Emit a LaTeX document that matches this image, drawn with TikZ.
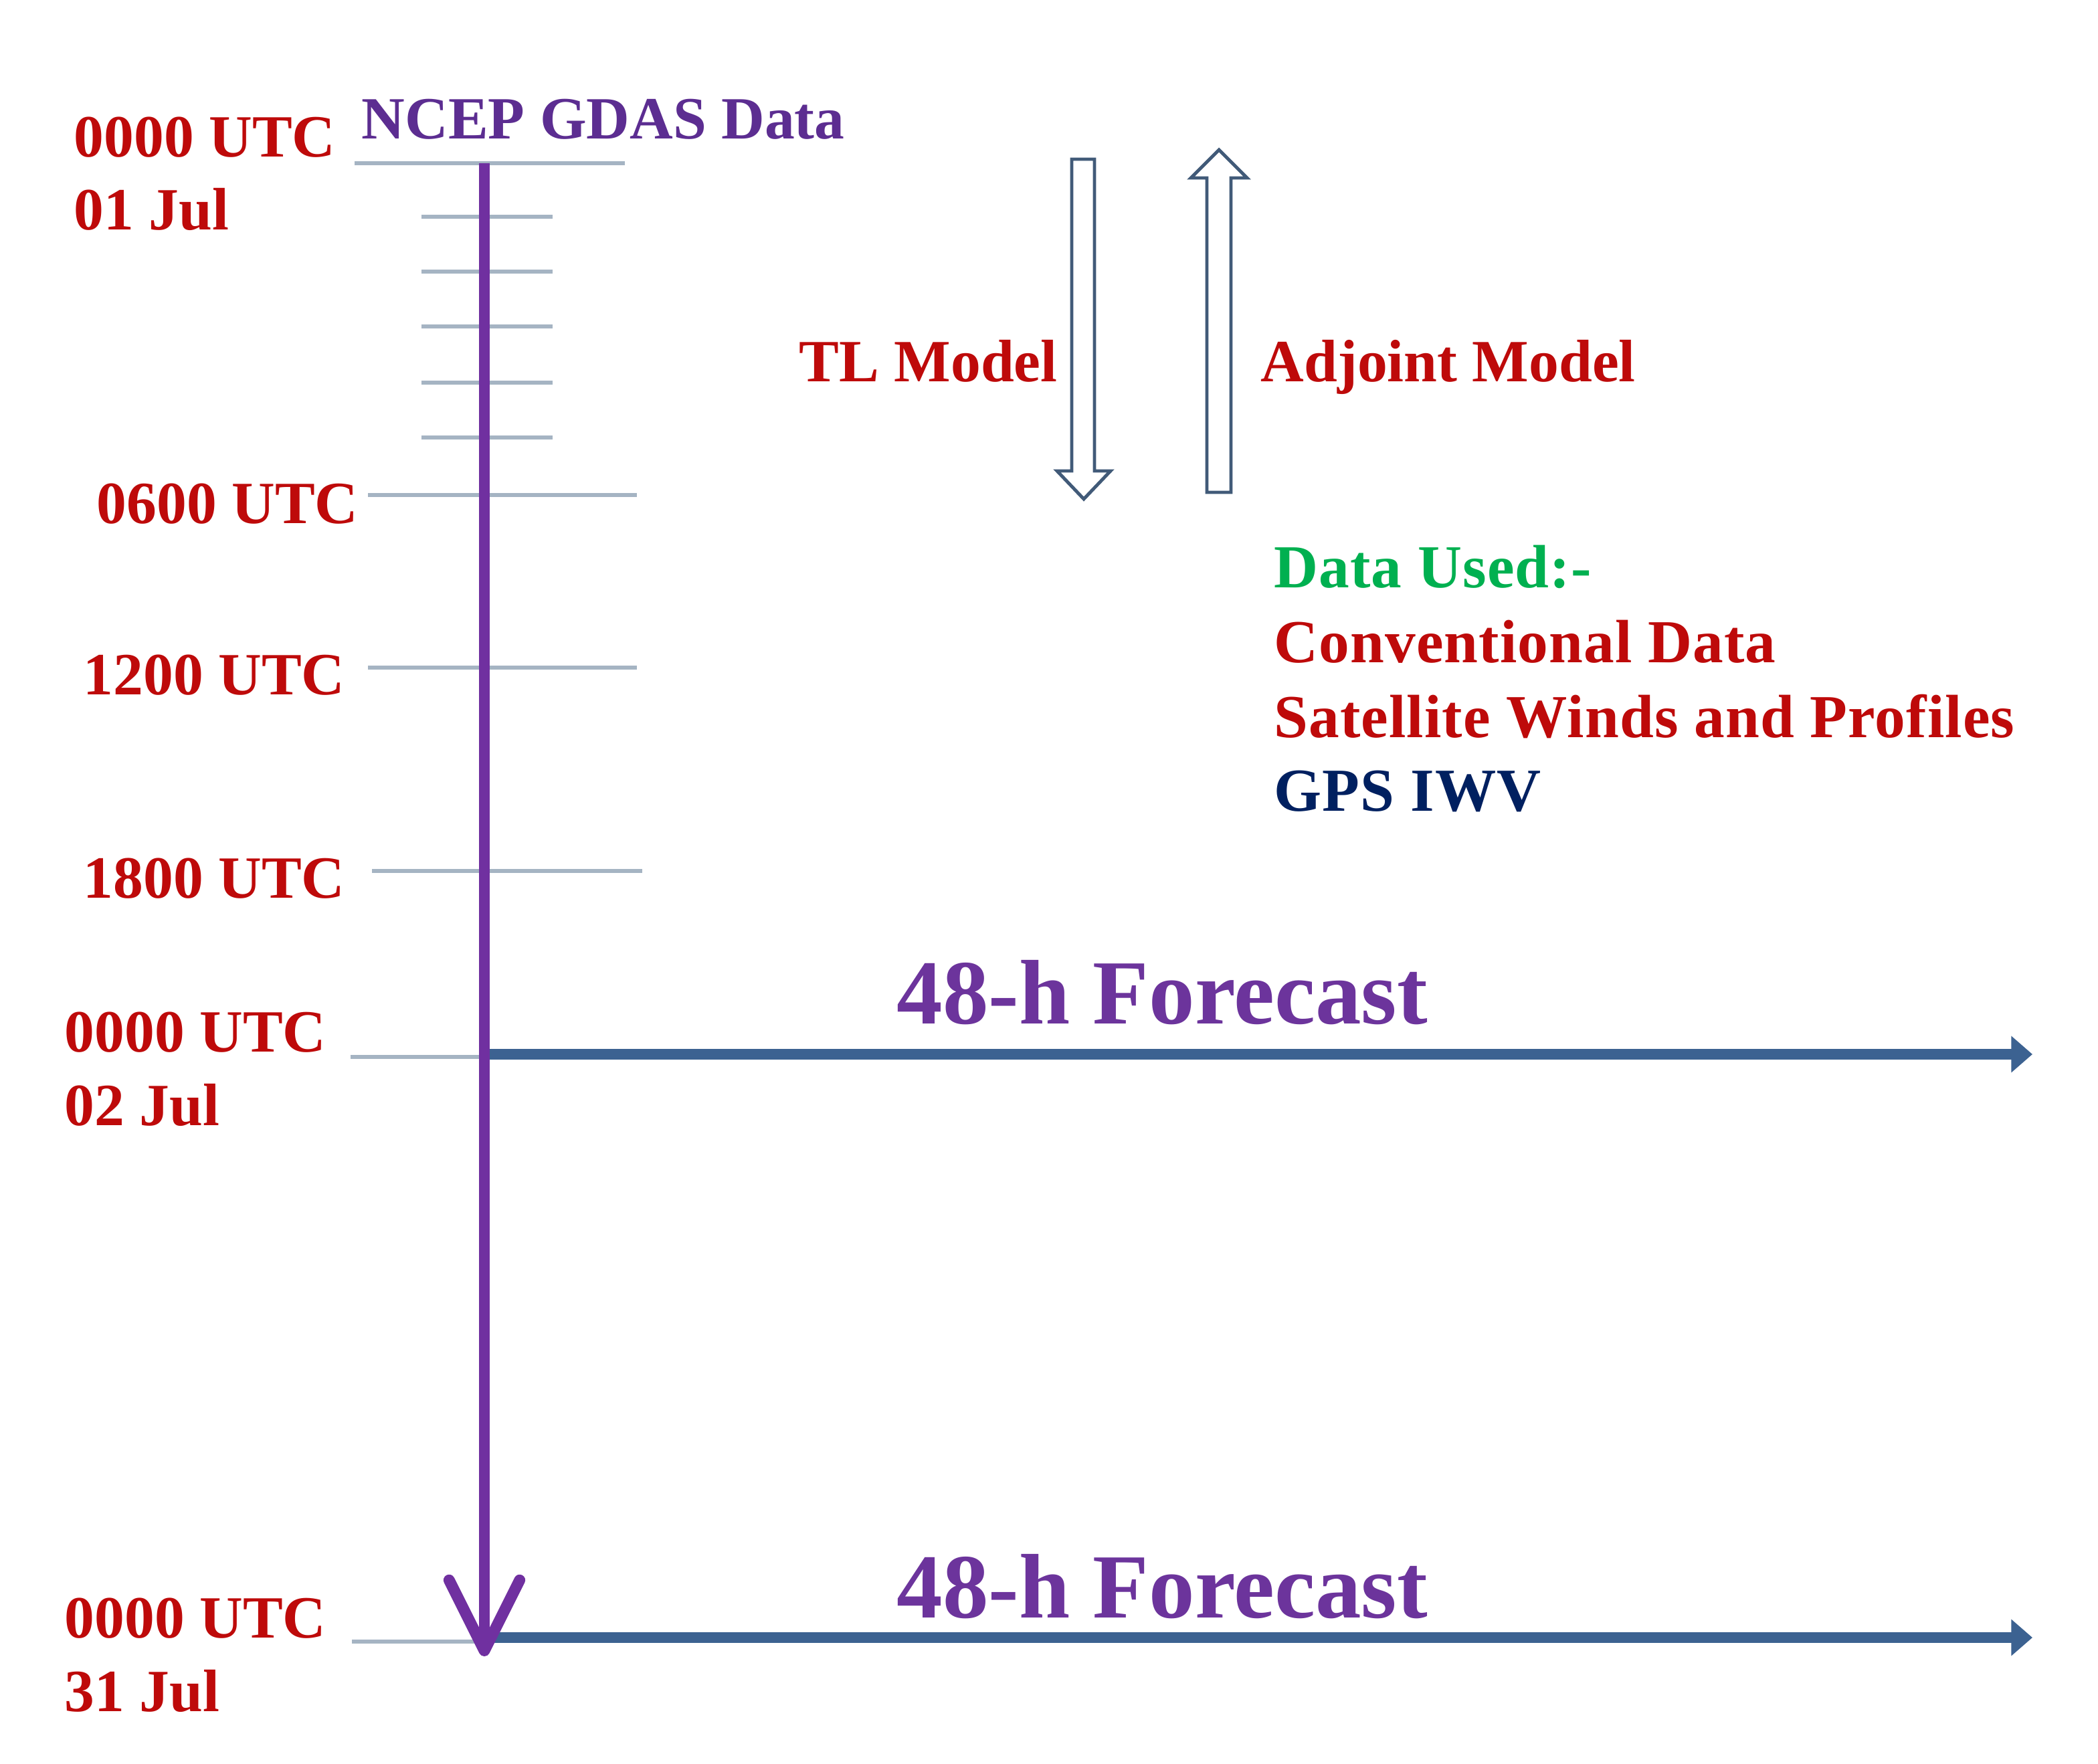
\documentclass[tikz,border=0pt]{standalone}
\usepackage{fontspec}
\setmainfont{Liberation Serif}
\usetikzlibrary{arrows.meta}
\definecolor{lblred}{RGB}{190,10,10}
\definecolor{ncep}{RGB}{92,45,145}
\definecolor{fpurple}{RGB}{108,52,156}
\definecolor{vpurple}{RGB}{112,48,160}
\definecolor{fblue}{RGB}{60,98,145}
\definecolor{tickgray}{RGB}{165,180,195}
\definecolor{hollowc}{RGB}{65,90,120}
\definecolor{dgreen}{RGB}{0,176,80}
\definecolor{navyc}{RGB}{0,32,96}
\begin{document}
\begin{tikzpicture}[x=0.02cm,y=-0.02cm,
  lbl/.style={font=\fontsize{25.5}{28}\selectfont\bfseries, text=lblred, inner sep=0pt, anchor=base west},
  ncepst/.style={lbl, text=ncep},
  datast/.style={font=\fontsize{26}{28}\selectfont\bfseries\addfontfeature{LetterSpace=1.2}, inner sep=0pt, anchor=base west},
  fst/.style={font=\fontsize{39}{42}\selectfont\bfseries, text=fpurple, inner sep=0pt, anchor=base west},
  tickln/.style={draw=tickgray, line width=1.6pt},
  fcarrow/.style={draw=fblue, line width=4.8pt, -{Triangle[length=9pt,width=15pt]}},
  vline/.style={draw=vpurple, line width=4.8pt, -{Straight Barb[length=30pt,width=30pt,round]}},
  hollowarr/.style={draw=hollowc, fill=white, line width=1.4pt, line join=miter}
]
\useasboundingbox (0,0) rectangle (1568,1318);
\fill[white] (0,0) rectangle (1568,1318);

% tick lines
\draw[tickln] (265,122) -- (467,122);
\foreach \yy in {162,203,244,286,327} {\draw[tickln] (315,\yy) -- (413,\yy);}
\draw[tickln] (275,370) -- (476,370);
\draw[tickln] (275,499) -- (476,499);
\draw[tickln] (278,651) -- (480,651);
\draw[tickln] (262,790) -- (362,790);
\draw[tickln] (263,1227) -- (362,1227);

% forecast arrows
\coordinate (f1s) at (362,788);
\coordinate (f1e) at (1519,788);
\coordinate (f2s) at (362,1224);
\coordinate (f2e) at (1519,1224);
\draw[fcarrow] (f1s) -- (f1e);
\draw[fcarrow] (f2s) -- (f2e);

% main time axis
\coordinate (top) at (362,122);
\coordinate (bot) at (362,1238);
\draw[vline] (top) -- (bot);

% hollow arrows
\draw[hollowarr] (801,119) -- (818,119) -- (818,352) -- (830,352) -- (810,373) -- (790,352) -- (801,352) -- cycle;
\draw[hollowarr] (902,368) -- (920,368) -- (920,133) -- (932,133) -- (911,112) -- (890,133) -- (902,133) -- cycle;

% labels
\node[lbl] (t0) at (55,117) {0000 UTC};
\node[lbl] (d0) at (55,172) {01 Jul};
\node[ncepst] (ncepl) at (270,104) {NCEP GDAS Data};
\node[lbl] (t6) at (72,391) {0600 UTC};
\node[lbl] (t12) at (62,519) {1200 UTC};
\node[lbl] (t18) at (62,671) {1800 UTC};
\node[lbl] (t24) at (48,786) {0000 UTC};
\node[lbl] (d1) at (48,841) {02 Jul};
\node[lbl] (tend) at (48,1224) {0000 UTC};
\node[lbl] (dend) at (48,1279) {31 Jul};
\node[lbl] (tl) at (597,285) {TL Model};
\node[lbl] (adj) at (942,285) {Adjoint Model};

\node[datast, text=dgreen] (du) at (952,439) {Data Used:-};
\node[datast, text=lblred] (cd) at (952,495) {Conventional Data};
\node[datast, text=lblred] (sw) at (952,551) {Satellite Winds and Profiles};
\node[datast, text=navyc] (gps) at (952,606) {GPS IWV};

\node[fst] (fc1) at (670,765) {48-h Forecast};
\node[fst] (fc2) at (670,1209) {48-h Forecast};
\end{tikzpicture}
\end{document}
